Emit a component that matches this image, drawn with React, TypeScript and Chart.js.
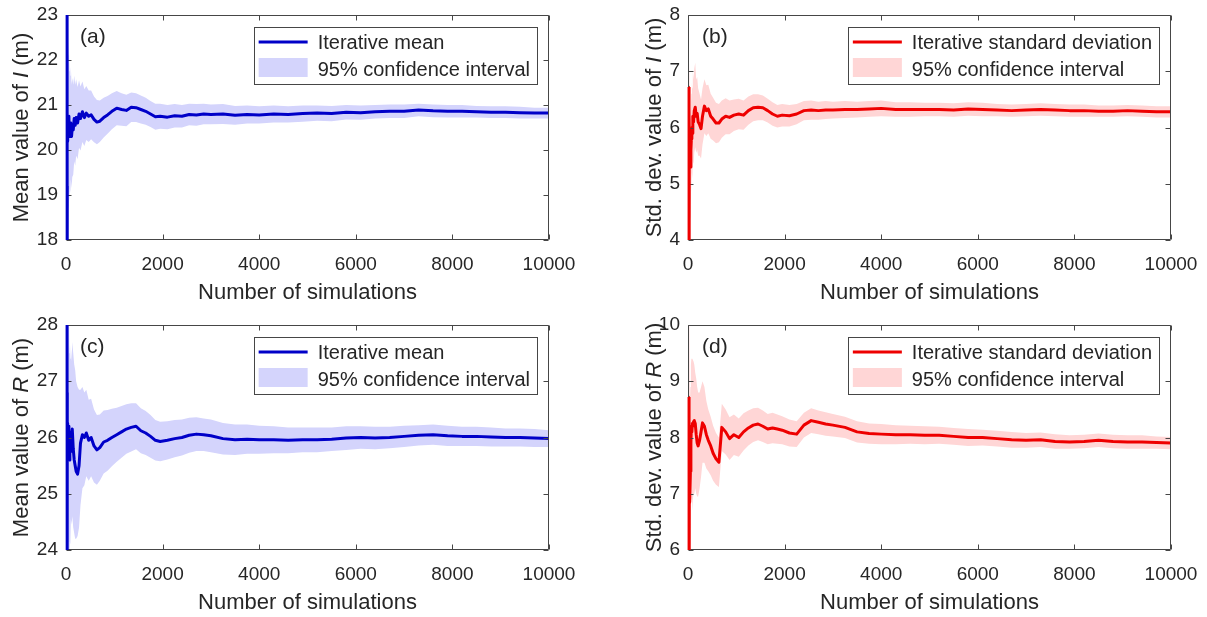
import React, { useEffect, useRef } from "react";
import { Chart, registerables } from "chart.js";

Chart.register(...registerables);

// ---------- data ----------
const simulations = [
  1, 2, 4, 6, 8, 10, 13, 16, 20, 25,
  30, 35, 40, 50, 60, 70, 80, 90, 100, 115,
  130, 150, 170, 190, 210, 240, 270, 300, 340, 380,
  420, 470, 520, 580, 640, 700, 780, 860, 950, 1050,
  1150, 1250, 1350, 1450, 1550, 1650, 1750, 1850, 1950, 2100,
  2250, 2400, 2550, 2700, 2850, 3000, 3250, 3500, 3750, 4000,
  4300, 4600, 4900, 5200, 5500, 5800, 6100, 6400, 6700, 7000,
  7300, 7600, 7900, 8200, 8500, 8800, 9100, 9400, 9700, 10000,
];

const xTickValues = [0, 2000, 4000, 6000, 8000, 10000];
const yTicksMeanI = [18, 19, 20, 21, 22, 23];
const yTicksStdI = [4, 5, 6, 7, 8];
const yTicksMeanR = [24, 25, 26, 27, 28];
const yTicksStdR = [6, 7, 8, 9, 10];

// (a) mean of I
const meanI = [
  26, 23.5, 17, 19.2, 20.9, 20.1, 20.8, 20.3, 20.9, 20.2,
  20.6, 20.25, 20.7, 20.4, 20.75, 20.3, 20.55, 20.35, 20.6, 20.3,
  20.5, 20.45, 20.7, 20.55, 20.72, 20.6, 20.8, 20.7, 20.85, 20.72,
  20.82, 20.75, 20.78, 20.68, 20.62, 20.64, 20.72, 20.78, 20.86, 20.93,
  20.9, 20.88, 20.95, 20.94, 20.9, 20.86, 20.8, 20.74, 20.75, 20.73,
  20.76, 20.75, 20.79, 20.78, 20.8, 20.79, 20.8, 20.77, 20.79, 20.78,
  20.8, 20.79, 20.81, 20.82, 20.81, 20.84, 20.83, 20.85, 20.86, 20.86,
  20.89, 20.87, 20.86, 20.86, 20.85, 20.84, 20.84, 20.83, 20.82, 20.82,
];
const meanILower = [
  13.7, 14.8, 10.9, 14.2, 16.6, 16.2, 17.4, 17.2, 18.2, 17.7,
  18.35, 18.2, 18.75, 18.7, 19.15, 18.85, 19.15, 19.05, 19.35, 19.15,
  19.4, 19.45, 19.75, 19.65, 19.87, 19.8, 20.05, 19.99, 20.18, 20.09,
  20.22, 20.18, 20.24, 20.17, 20.13, 20.18, 20.28, 20.36, 20.46, 20.55,
  20.54, 20.53, 20.62, 20.62, 20.59, 20.56, 20.51, 20.45, 20.47, 20.46,
  20.5, 20.5, 20.55, 20.54, 20.57, 20.57, 20.58, 20.56, 20.59, 20.59,
  20.61, 20.61, 20.63, 20.65, 20.64, 20.68, 20.67, 20.7, 20.71, 20.71,
  20.75, 20.73, 20.72, 20.72, 20.72, 20.71, 20.71, 20.7, 20.7, 20.7,
];
const meanIUpper = [
  38.3, 32.2, 23.2, 24.2, 25.3, 24.0, 24.2, 23.4, 23.6, 22.7,
  22.85, 22.3, 22.65, 22.1, 22.35, 21.75, 21.95, 21.65, 21.85, 21.45,
  21.6, 21.45, 21.65, 21.45, 21.57, 21.4, 21.55, 21.41, 21.52, 21.35,
  21.42, 21.32, 21.32, 21.19, 21.11, 21.1, 21.16, 21.2, 21.26, 21.31,
  21.26, 21.23, 21.28, 21.26, 21.21, 21.16, 21.09, 21.03, 21.03, 21.0,
  21.02, 21.0, 21.03, 21.02, 21.03, 21.01, 21.02, 20.98, 20.99, 20.97,
  20.99, 20.97, 20.99, 20.99, 20.98, 21.0, 20.99, 21.0, 21.01, 21.01,
  21.03, 21.01, 21.0, 21.0, 20.98, 20.97, 20.97, 20.96, 20.94, 20.94,
];

// (b) standard deviation of I
const stdI = [
  6.72, 2.5, 4.2, 5.9, 6.4, 6.0, 6.5, 6.3, 6.2, 5.8,
  5.5, 5.3, 5.4, 5.3, 5.6, 5.8, 6.0, 5.9, 6.2, 6.1,
  6.3, 6.36, 6.2, 6.25, 6.1, 6.05, 5.98, 6.2, 6.38, 6.3,
  6.33, 6.2, 6.15, 6.08, 6.08, 6.15, 6.2, 6.18, 6.22, 6.24,
  6.22, 6.3, 6.35, 6.36, 6.35, 6.3, 6.24, 6.2, 6.22, 6.21,
  6.24, 6.3, 6.31, 6.3, 6.31, 6.31, 6.32, 6.32, 6.33, 6.34,
  6.32, 6.32, 6.32, 6.32, 6.31, 6.33, 6.32, 6.31, 6.3, 6.31,
  6.32, 6.31, 6.3, 6.3, 6.29, 6.29, 6.3, 6.29, 6.28, 6.28,
];
const stdILower = [
  3, 0, 1.5, 3.5, 4.3, 4.0, 4.7, 4.7, 4.8, 4.6,
  4.4, 4.3, 4.4, 4.4, 4.8, 5.0, 5.2, 5.1, 5.4, 5.35,
  5.55, 5.65, 5.55, 5.6, 5.5, 5.5, 5.45, 5.7, 5.9, 5.85,
  5.9, 5.8, 5.77, 5.72, 5.74, 5.82, 5.88, 5.88, 5.94, 5.97,
  5.96, 6.05, 6.11, 6.13, 6.13, 6.09, 6.03, 6.0, 6.02, 6.02,
  6.06, 6.13, 6.14, 6.14, 6.15, 6.16, 6.17, 6.18, 6.19, 6.2,
  6.19, 6.19, 6.2, 6.2, 6.19, 6.21, 6.2, 6.2, 6.19, 6.2,
  6.21, 6.2, 6.19, 6.19, 6.19, 6.19, 6.2, 6.19, 6.18, 6.18,
];
const stdIUpper = [
  10.5, 8, 7, 8.3, 8.5, 8.0, 8.3, 7.9, 7.6, 7.0,
  6.6, 6.3, 6.4, 6.2, 6.4, 6.6, 6.8, 6.7, 7.0, 6.85,
  7.05, 7.15, 6.85, 6.9, 6.7, 6.6, 6.5, 6.7, 6.86, 6.75,
  6.76, 6.6, 6.53, 6.44, 6.42, 6.48, 6.52, 6.48, 6.5, 6.51,
  6.48, 6.55, 6.59, 6.59, 6.57, 6.51, 6.45, 6.4, 6.42, 6.4,
  6.42, 6.47, 6.48, 6.46, 6.47, 6.46, 6.47, 6.46, 6.47, 6.48,
  6.45, 6.45, 6.44, 6.44, 6.43, 6.45, 6.44, 6.42, 6.41, 6.42,
  6.43, 6.42, 6.41, 6.41, 6.39, 6.39, 6.4, 6.39, 6.38, 6.38,
];

// (c) mean of R
const meanR = [
  29.5, 27.0, 23.5, 26.8, 26.2, 27.3, 26.5, 25.7, 26.2, 25.8,
  26.25, 25.7, 26.2, 26.15, 26.2, 25.6, 25.9, 25.75, 26.1, 25.9,
  26.15, 25.8, 25.6, 25.5, 25.4, 25.35, 25.5, 25.9, 26.05, 26.0,
  26.08, 25.95, 26.0, 25.85, 25.78, 25.82, 25.92, 25.95, 26.0, 26.05,
  26.1, 26.15, 26.18, 26.2, 26.12, 26.08, 26.02, 25.95, 25.93, 25.95,
  25.98, 26.0, 26.04, 26.06, 26.05, 26.03, 25.98, 25.96, 25.97, 25.96,
  25.96, 25.95, 25.96, 25.96, 25.97, 25.99, 26.0, 25.99, 26.0, 26.02,
  26.04, 26.05, 26.03, 26.02, 26.02, 26.01, 26.0, 26.0, 25.99, 25.98,
];
const meanRLower = [
  15, 16, 15.7, 20.4, 20.7, 22.3, 22.1, 21.8, 22.7, 22.7,
  23.4, 23.05, 23.7, 23.9, 24.2, 23.7, 24.15, 24.1, 24.55, 24.45,
  24.6, 24.4, 24.3, 24.2, 24.2, 24.25, 24.4, 24.8, 25.1, 25.15,
  25.31, 25.23, 25.31, 25.2, 25.16, 25.23, 25.36, 25.41, 25.49, 25.57,
  25.64, 25.71, 25.75, 25.79, 25.72, 25.69, 25.64, 25.59, 25.58, 25.61,
  25.65, 25.68, 25.73, 25.76, 25.76, 25.74, 25.7, 25.69, 25.71, 25.71,
  25.72, 25.72, 25.74, 25.74, 25.76, 25.78, 25.8, 25.79, 25.81, 25.83,
  25.86, 25.87, 25.85, 25.85, 25.85, 25.84, 25.84, 25.84, 25.83, 25.83,
];
const meanRUpper = [
  44, 38, 31.4, 33.2, 31.7, 32.3, 30.9, 29.6, 29.7, 28.9,
  29.1, 28.35, 28.7, 28.4, 28.2, 27.5, 27.65, 27.4, 27.65, 27.35,
  27.7, 27.5, 27.3, 27.2, 27.0, 26.9, 26.85, 26.85, 26.9, 26.8,
  26.85, 26.67, 26.69, 26.5, 26.4, 26.41, 26.48, 26.49, 26.51, 26.53,
  26.56, 26.59, 26.61, 26.61, 26.52, 26.47, 26.4, 26.31, 26.28, 26.29,
  26.31, 26.32, 26.35, 26.36, 26.34, 26.32, 26.26, 26.23, 26.23, 26.21,
  26.2, 26.18, 26.18, 26.18, 26.18, 26.2, 26.2, 26.19, 26.19, 26.21,
  26.22, 26.23, 26.21, 26.19, 26.19, 26.18, 26.16, 26.16, 26.15, 26.13,
];

// (d) standard deviation of R
const stdR = [
  8.72, 5.0, 5.5, 7.0, 8.0, 7.6, 8.2, 7.8, 8.3, 7.9,
  7.3, 6.9, 6.85, 7.4, 7.9, 8.2, 8.1, 8.25, 8.2, 8.28,
  8.3, 8.25, 8.05, 7.9, 7.85, 7.95, 8.1, 8.26, 8.2, 8.05,
  7.95, 7.85, 7.72, 7.62, 7.56, 8.18, 8.1, 7.98, 8.05, 8.0,
  8.1, 8.17, 8.22, 8.24, 8.2, 8.15, 8.17, 8.15, 8.13, 8.08,
  8.06, 8.22, 8.3, 8.27, 8.24, 8.22, 8.18, 8.1, 8.07, 8.06,
  8.05, 8.05, 8.04, 8.04, 8.02, 8.0, 8.0, 7.98, 7.96, 7.95,
  7.96, 7.93, 7.92, 7.93, 7.95, 7.93, 7.92, 7.92, 7.91, 7.9,
];
const stdRLower = [
  0, 0, 1, 3.5, 4.5, 4.8, 5.5, 5.6, 6.0, 6.0,
  5.6, 5.4, 5.5, 6.2, 6.9, 7.2, 6.9, 6.7, 6.9, 7.0,
  7.0, 7.1, 7.0, 6.95, 6.95, 7.1, 7.3, 7.55, 7.55, 7.45,
  7.4, 7.33, 7.23, 7.16, 7.12, 7.76, 7.7, 7.6, 7.69, 7.66,
  7.77, 7.86, 7.92, 7.95, 7.92, 7.88, 7.9, 7.89, 7.88, 7.84,
  7.83, 8.0, 8.08, 8.06, 8.03, 8.02, 7.99, 7.91, 7.89, 7.88,
  7.88, 7.89, 7.88, 7.89, 7.87, 7.85, 7.86, 7.84, 7.82, 7.82,
  7.83, 7.8, 7.8, 7.81, 7.83, 7.81, 7.8, 7.8, 7.8, 7.79,
];
const stdRUpper = [
  20, 14, 12, 13, 11.5, 10.5, 10.9, 10.5, 10.6, 10.1,
  9.2, 8.7, 8.5, 8.9, 9.3, 9.4, 9.4, 9.4, 9.4, 9.35,
  9.3, 9.15, 9.05, 8.9, 8.8, 8.8, 8.9, 9.0, 8.9, 8.65,
  8.5, 8.37, 8.21, 8.08, 8.0, 8.6, 8.5, 8.36, 8.41, 8.34,
  8.43, 8.48, 8.52, 8.53, 8.48, 8.42, 8.44, 8.41, 8.38, 8.32,
  8.29, 8.44, 8.52, 8.48, 8.45, 8.42, 8.37, 8.29, 8.25, 8.24,
  8.22, 8.21, 8.2, 8.19, 8.17, 8.15, 8.14, 8.12, 8.1, 8.08,
  8.09, 8.06, 8.04, 8.05, 8.07, 8.05, 8.04, 8.04, 8.02, 8.01,
];

// ---------- styling ----------
const FAMILY = "'Liberation Sans', Arial, Helvetica, sans-serif";
const INK = "rgb(38,38,38)";
const FRAME = "rgb(70,70,70)";
const BLUE = "rgb(0,0,200)";
const BLUE_FILL = "rgb(212,212,252)";
const RED = "rgb(238,0,0)";
const RED_FILL = "rgb(255,214,214)";

type TitlePart = { text: string; italic?: boolean };

type Panel = {
  id: string;
  letter: string;
  values: number[];
  lower: number[];
  upper: number[];
  yTicks: number[];
  lineColor: string;
  fillColor: string;
  lineLabel: string;
  yTitle: TitlePart[];
  x: number;
  y: number;
  w: number;
  h: number;
  yAxisW: number;
  padR: number;
  padT: number;
  xAxisH: number;
  yTitleOffset: number;
};

const panels: Panel[] = [
  {
    id: "a", letter: "(a)", values: meanI, lower: meanILower, upper: meanIUpper, yTicks: yTicksMeanI,
    lineColor: BLUE, fillColor: BLUE_FILL, lineLabel: "Iterative mean",
    yTitle: [{ text: "Mean value of " }, { text: "I", italic: true }, { text: " (m)" }],
    x: 0, y: 0, w: 603, h: 308, yAxisW: 66, padR: 54, padT: 15, xAxisH: 68, yTitleOffset: 38,
  },
  {
    id: "b", letter: "(b)", values: stdI, lower: stdILower, upper: stdIUpper, yTicks: yTicksStdI,
    lineColor: RED, fillColor: RED_FILL, lineLabel: "Iterative standard deviation",
    yTitle: [{ text: "Std. dev. value of " }, { text: "I", italic: true }, { text: " (m)" }],
    x: 603, y: 0, w: 604, h: 308, yAxisW: 85, padR: 36, padT: 15, xAxisH: 68, yTitleOffset: 27,
  },
  {
    id: "c", letter: "(c)", values: meanR, lower: meanRLower, upper: meanRUpper, yTicks: yTicksMeanR,
    lineColor: BLUE, fillColor: BLUE_FILL, lineLabel: "Iterative mean",
    yTitle: [{ text: "Mean value of " }, { text: "R", italic: true }, { text: " (m)" }],
    x: 0, y: 308, w: 603, h: 309, yAxisW: 66, padR: 54, padT: 17, xAxisH: 67, yTitleOffset: 38,
  },
  {
    id: "d", letter: "(d)", values: stdR, lower: stdRLower, upper: stdRUpper, yTicks: yTicksStdR,
    lineColor: RED, fillColor: RED_FILL, lineLabel: "Iterative standard deviation",
    yTitle: [{ text: "Std. dev. value of " }, { text: "R", italic: true }, { text: " (m)" }],
    x: 603, y: 308, w: 604, h: 309, yAxisW: 85, padR: 36, padT: 17, xAxisH: 67, yTitleOffset: 27,
  },
];

function decorPlugin(p: Panel) {
  return {
    id: "decor_" + p.id,
    afterDatasetsDraw(chart: any) {
      const { ctx, chartArea } = chart;
      const { left, right, top, bottom } = chartArea;
      const xs = chart.scales.x;
      const ys = chart.scales.y;
      ctx.save();
      ctx.strokeStyle = FRAME;
      ctx.lineWidth = 1;
      const L = Math.round(left) + 0.5;
      const R = Math.round(right) - 0.5;
      const T = Math.round(top) + 0.5;
      const B = Math.round(bottom) - 0.5;
      ctx.beginPath();
      ctx.moveTo(L, T);
      ctx.lineTo(R, T);
      ctx.lineTo(R, B);
      ctx.lineTo(L, B);
      ctx.closePath();
      const tl = 5;
      xTickValues.forEach((v) => {
        const px = Math.round(xs.getPixelForValue(v)) + 0.5;
        ctx.moveTo(px, B);
        ctx.lineTo(px, B - tl);
        ctx.moveTo(px, T);
        ctx.lineTo(px, T + tl);
      });
      p.yTicks.forEach((v) => {
        const py = Math.round(ys.getPixelForValue(v)) + 0.5;
        ctx.moveTo(L, py);
        ctx.lineTo(L + tl, py);
        ctx.moveTo(R, py);
        ctx.lineTo(R - tl, py);
      });
      ctx.stroke();
      ctx.restore();

      // redraw the line's first segment over the left frame edge (as in the original)
      const meta = chart.getDatasetMeta(0);
      if (meta && meta.data && meta.data.length > 3) {
        ctx.save();
        ctx.beginPath();
        ctx.rect(left - 2, top, right - left + 2, bottom - top);
        ctx.clip();
        ctx.strokeStyle = p.lineColor;
        ctx.lineWidth = 3;
        ctx.lineJoin = "round";
        ctx.beginPath();
        for (let i = 0; i < 4; i++) {
          const pt = meta.data[i];
          if (i === 0) ctx.moveTo(pt.x + 1, pt.y);
          else ctx.lineTo(pt.x + 1, pt.y);
        }
        ctx.stroke();
        ctx.restore();
      }
    },
    afterDraw(chart: any) {
      const { ctx, chartArea } = chart;
      const { left, right, top, bottom } = chartArea;
      ctx.save();

      // panel letter
      ctx.fillStyle = INK;
      ctx.font = `21px ${FAMILY}`;
      ctx.textAlign = "left";
      ctx.textBaseline = "middle";
      ctx.fillText(p.letter, left + 14, top + 22);

      // legend
      ctx.font = `20px ${FAMILY}`;
      const labels = [p.lineLabel, "95% confidence interval"];
      const textW = Math.max(...labels.map((t) => ctx.measureText(t).width));
      const boxW = 64 + textW + 7;
      const boxH = 57;
      const bx = Math.round(right) - 12 - boxW;
      const by = Math.round(top) + 12;
      ctx.fillStyle = "#ffffff";
      ctx.fillRect(bx, by, boxW, boxH);
      ctx.strokeStyle = FRAME;
      ctx.lineWidth = 1;
      ctx.strokeRect(Math.round(bx) + 0.5, by + 0.5, Math.round(boxW), boxH);
      ctx.strokeStyle = p.lineColor;
      ctx.lineWidth = 3;
      ctx.beginPath();
      ctx.moveTo(bx + 5, by + 15);
      ctx.lineTo(bx + 54, by + 15);
      ctx.stroke();
      ctx.fillStyle = p.fillColor;
      ctx.fillRect(bx + 5, by + 31, 49, 19);
      ctx.fillStyle = INK;
      ctx.textBaseline = "middle";
      ctx.fillText(labels[0], bx + 64, by + 16);
      ctx.fillText(labels[1], bx + 64, by + 43);

      // x title
      ctx.font = `22px ${FAMILY}`;
      ctx.textAlign = "center";
      ctx.textBaseline = "alphabetic";
      ctx.fillText("Number of simulations", (left + right) / 2, bottom + 59);

      // y title with italic variable
      const fonts = p.yTitle.map((t) => `${t.italic ? "italic " : ""}22px ${FAMILY}`);
      const widths = p.yTitle.map((t, i) => {
        ctx.font = fonts[i];
        return ctx.measureText(t.text).width;
      });
      const total = widths.reduce((s, w) => s + w, 0);
      ctx.translate(left - p.yTitleOffset, (top + bottom) / 2);
      ctx.rotate(-Math.PI / 2);
      ctx.textAlign = "left";
      let cx = -total / 2;
      p.yTitle.forEach((t, i) => {
        ctx.font = fonts[i];
        ctx.fillText(t.text, cx, 0);
        cx += widths[i];
      });
      ctx.restore();
    },
  };
}

function ChartPanel({ p }: { p: Panel }) {
  const ref = useRef<HTMLCanvasElement | null>(null);
  useEffect(() => {
    if (!ref.current) return;
    const pts = (arr: number[]) => simulations.map((x, i) => ({ x, y: arr[i] }));
    const tickFont = { family: FAMILY, size: 19 };
    const chart = new Chart(ref.current, {
      type: "line",
      data: {
        datasets: [
          {
            label: p.lineLabel,
            data: pts(p.values),
            borderColor: p.lineColor,
            borderWidth: 3,
            pointRadius: 0,
            fill: false,
            tension: 0,
            borderJoinStyle: "round",
            clip: 0,
          } as any,
          {
            label: "lower",
            data: pts(p.lower),
            borderColor: "rgba(0,0,0,0)",
            borderWidth: 0,
            pointRadius: 0,
            fill: false,
            tension: 0,
            clip: 0,
          } as any,
          {
            label: "95% confidence interval",
            data: pts(p.upper),
            borderColor: "rgba(0,0,0,0)",
            backgroundColor: p.fillColor,
            borderWidth: 0,
            pointRadius: 0,
            fill: "-1",
            tension: 0,
            clip: 0,
          } as any,
        ],
      },
      options: {
        animation: false,
        responsive: false,
        events: [],
        layout: { padding: { left: 0, right: p.padR, top: p.padT, bottom: 0 } },
        plugins: {
          legend: { display: false },
          tooltip: { enabled: false },
          title: { display: false },
        },
        scales: {
          x: {
            type: "linear",
            min: 0,
            max: 10000,
            grid: { display: false, drawTicks: false },
            border: { display: false },
            afterBuildTicks: (s: any) => {
              s.ticks = xTickValues.map((v) => ({ value: v }));
            },
            afterFit: (s: any) => {
              s.height = p.xAxisH;
              s.paddingLeft = 0;
              s.paddingRight = 0;
            },
            ticks: {
              font: tickFont,
              color: INK,
              padding: 13,
              maxRotation: 0,
              autoSkip: false,
              callback: (v: any) => String(v),
            },
          },
          y: {
            type: "linear",
            min: p.yTicks[0],
            max: p.yTicks[p.yTicks.length - 1],
            grid: { display: false, drawTicks: false },
            border: { display: false },
            afterBuildTicks: (s: any) => {
              s.ticks = p.yTicks.map((v) => ({ value: v }));
            },
            afterFit: (s: any) => {
              s.width = p.yAxisW;
              s.paddingTop = 0;
              s.paddingBottom = 0;
            },
            ticks: {
              font: tickFont,
              color: INK,
              padding: 8,
              autoSkip: false,
              callback: (v: any) => String(v),
            },
          },
        },
      } as any,
      plugins: [decorPlugin(p)],
    });
    return () => chart.destroy();
  }, [p]);
  return (
    <canvas
      ref={ref}
      width={p.w}
      height={p.h}
      style={{ position: "absolute", left: p.x, top: p.y, width: p.w, height: p.h }}
    />
  );
}

export default function App() {
  return (
    <div
      style={{
        position: "fixed",
        left: 0,
        top: 0,
        width: 1207,
        height: 617,
        background: "#ffffff",
        overflow: "hidden",
      }}
    >
      {panels.map((p) => (
        <ChartPanel key={p.id} p={p} />
      ))}
    </div>
  );
}
